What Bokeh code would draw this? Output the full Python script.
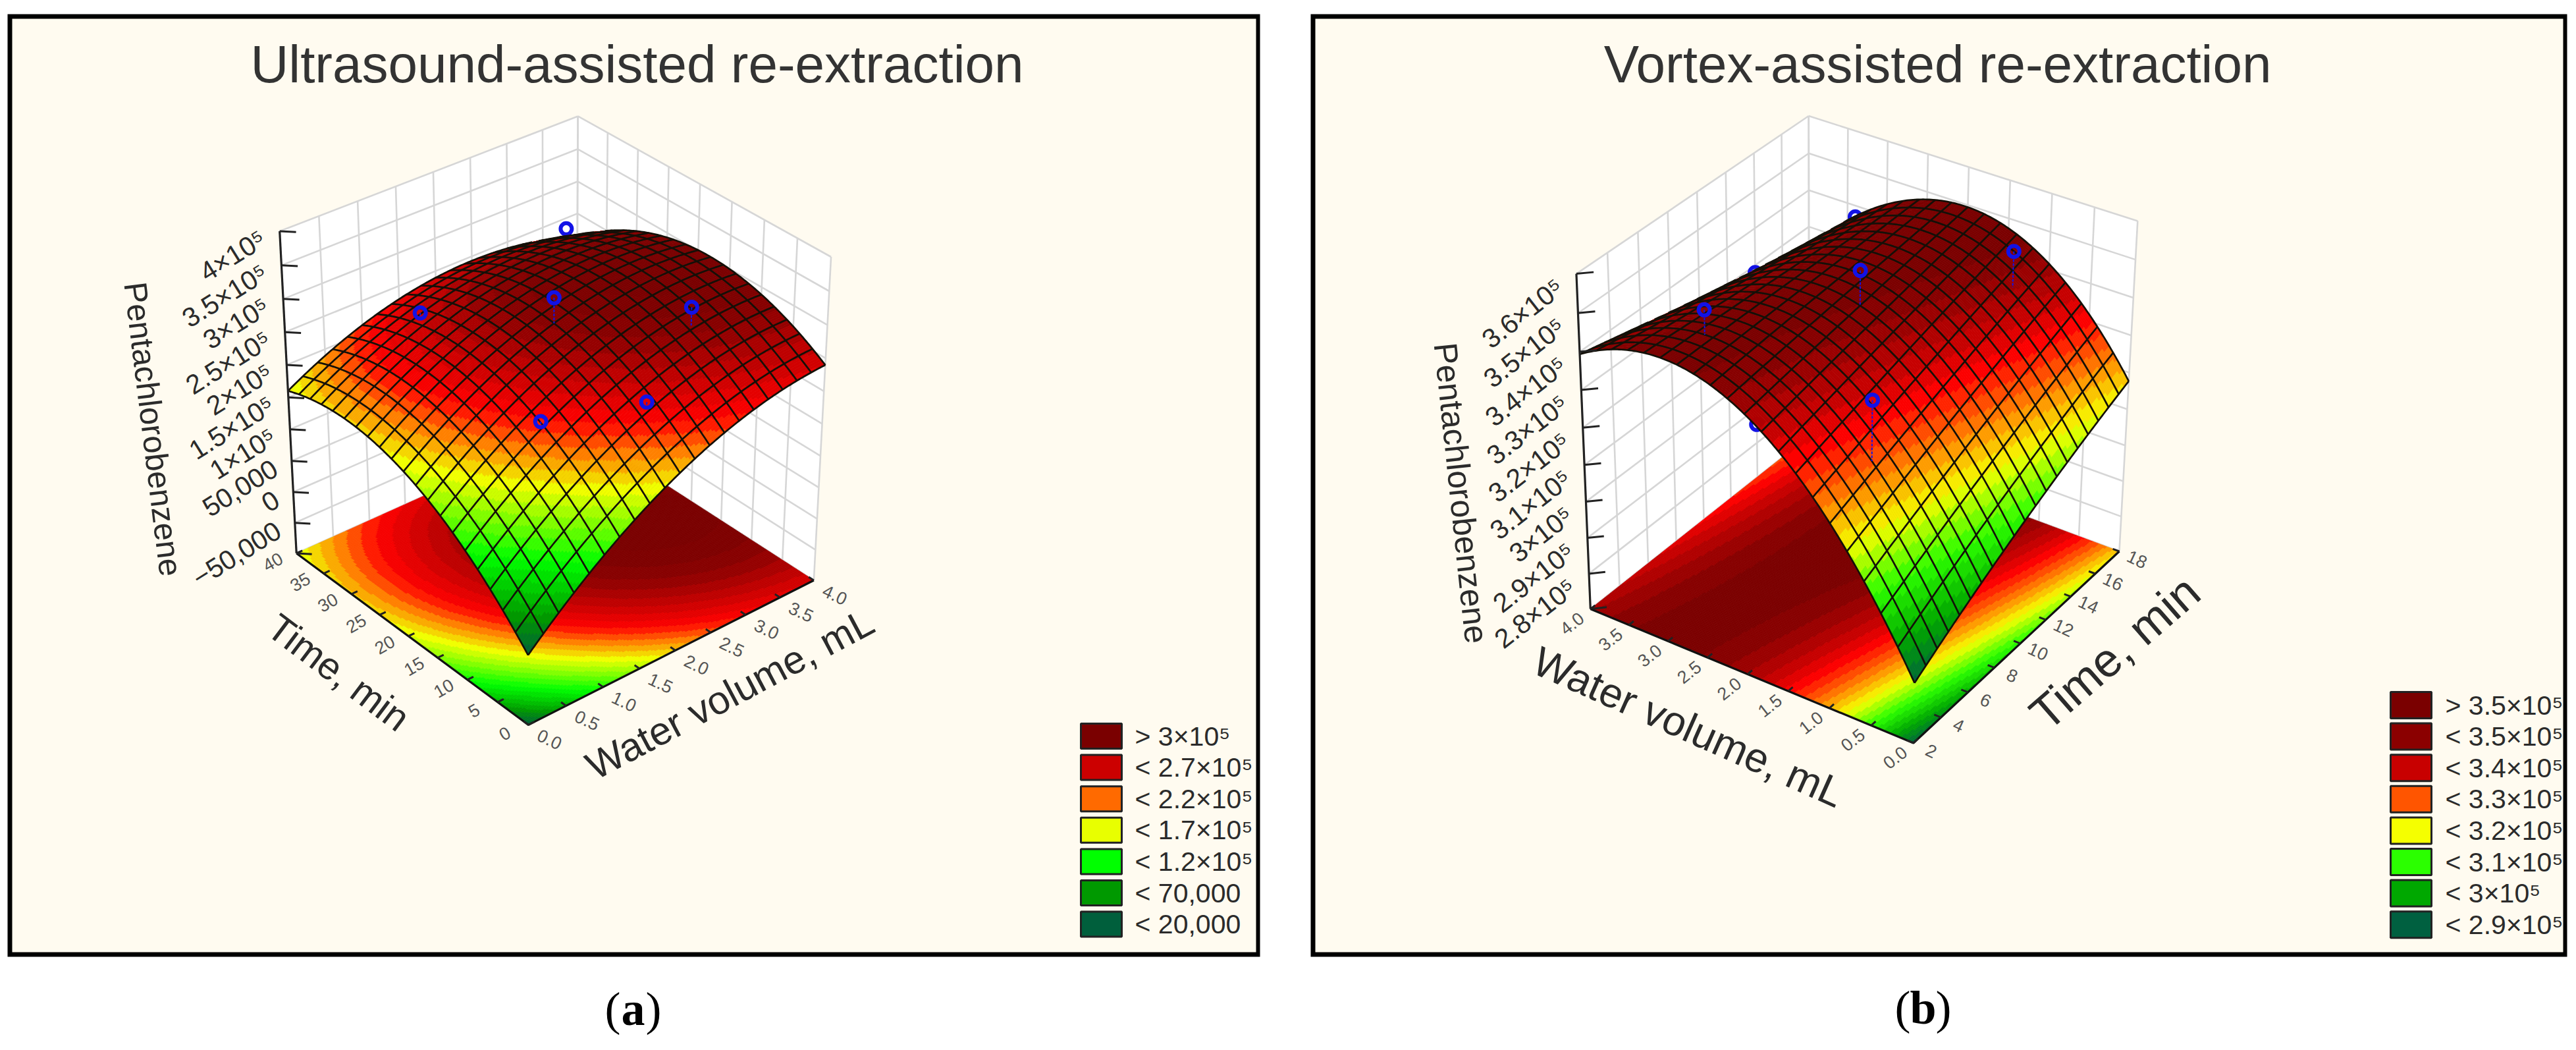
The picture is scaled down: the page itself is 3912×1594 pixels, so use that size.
import numpy as np
from bokeh.plotting import figure
from bokeh.embed import file_html
from bokeh.resources import INLINE
from bokeh.core.properties import value

# ---------- data (z in thousands) ----------
WATER_TICKS = [0.0, 0.5, 1.0, 1.5, 2.0, 2.5, 3.0, 3.5, 4.0]
TIME_A_TICKS = [0, 5, 10, 15, 20, 25, 30, 35, 40]
TIME_B_TICKS = [2, 4, 6, 8, 10, 12, 14, 16, 18]
Z_A_TICKS = [-100, -50, 0, 50, 100, 150, 200, 250, 300, 350, 400]
Z_B_TICKS = [270, 280, 290, 300, 310, 320, 330, 340, 350, 360]
Z_A_LABELS = ["\u221250,000", "0", "50,000", "1\u00d710\u2075", "1.5\u00d710\u2075", "2\u00d710\u2075",
              "2.5\u00d710\u2075", "3\u00d710\u2075", "3.5\u00d710\u2075", "4\u00d710\u2075"]
Z_B_LABELS = ["2.8\u00d710\u2075", "2.9\u00d710\u2075", "3\u00d710\u2075", "3.1\u00d710\u2075", "3.2\u00d710\u2075",
              "3.3\u00d710\u2075", "3.4\u00d710\u2075", "3.5\u00d710\u2075", "3.6\u00d710\u2075"]

# rows: time ticks, columns: water ticks
SURFACE_A = [
    [10, 62, 107, 146, 178, 203, 222, 234, 240],
    [61, 110, 153, 189, 218, 241, 257, 266, 269],
    [103, 149, 189, 223, 249, 269, 282, 289, 289],
    [136, 179, 216, 247, 271, 288, 298, 302, 300],
    [159, 200, 234, 262, 283, 297, 305, 306, 301],
    [173, 211, 243, 268, 286, 298, 303, 301, 293],
    [178, 213, 242, 265, 280, 289, 291, 287, 276],
    [174, 206, 232, 252, 265, 271, 270, 263, 250],
    [160, 190, 213, 230, 240, 243, 240, 230, 214],
]
SURFACE_B = [
    [286.5, 304.8, 319.8, 331.4, 339.7, 344.6, 346.2, 344.4, 339.3],
    [291.2, 308.7, 323.0, 333.7, 341.2, 345.3, 346.1, 343.5, 337.6],
    [295.7, 312.4, 325.8, 335.8, 342.5, 345.8, 345.8, 342.4, 335.7],
    [300.0, 316.0, 328.5, 337.7, 343.6, 346.1, 345.3, 341.1, 333.6],
    [304.0, 319.3, 331.3, 339.8, 344.9, 346.6, 345.0, 340.0, 331.8],
    [307.8, 322.6, 334.1, 341.7, 346.0, 346.9, 344.5, 338.7, 329.8],
    [311.3, 325.8, 337.0, 343.8, 347.3, 347.4, 344.2, 337.6, 328.2],
    [314.6, 328.8, 339.2, 345.7, 348.4, 347.7, 343.7, 336.3, 326.6],
    [317.7, 331.6, 341.7, 347.4, 349.3, 347.8, 343.0, 335.8, 324.3],
]
POINTS_A_WATER = [1.16, 2.1, 2.0, 3.05, 1.25, 3.0]
POINTS_A_TIME = [12, 6.4, 20, 10.4, 33, 30]
POINTS_A_Z = [224, 240, 321, 312, 260, 324]
POINTS_A_BEHIND = [False, False, False, False, False, True]
POINTS_B_WATER = [3.0, 4.0, 3.0, 2.9, 2.0, 1.1, 1.05]
POINTS_B_TIME = [15.6, 14, 8.4, 4.4, 10, 15.8, 5.2]
POINTS_B_Z = [346, 328, 310, 352.5, 354, 350, 341.5]
POINTS_B_BEHIND = [True, True, True, False, False, False, False]

LEGEND_A_LABELS = ["> 3\u00d710\u2075", "< 2.7\u00d710\u2075", "< 2.2\u00d710\u2075", "< 1.7\u00d710\u2075",
                   "< 1.2\u00d710\u2075", "< 70,000", "< 20,000"]
LEGEND_A_COLORS = ["#7a0000", "#cc0000", "#ff6a00", "#e8ff00", "#00ff00", "#009900", "#005f3c"]
RAMP_A_Z = [10, 45, 100, 165, 195, 220, 250, 280, 300]
RAMP_A_COLORS = ["#005f3c", "#009900", "#00ff00", "#f0ff00", "#ff8000", "#ff0000", "#c80000", "#8b0000", "#7a0000"]
LEGEND_B_LABELS = ["> 3.5\u00d710\u2075", "< 3.5\u00d710\u2075", "< 3.4\u00d710\u2075", "< 3.3\u00d710\u2075",
                   "< 3.2\u00d710\u2075", "< 3.1\u00d710\u2075", "< 3\u00d710\u2075", "< 2.9\u00d710\u2075"]
LEGEND_B_COLORS = ["#7a0000", "#8b0000", "#c80000", "#ff5500", "#f5ff00", "#2bff00", "#00a800", "#006040"]
RAMP_B_Z = [286, 295, 305, 315, 322, 331, 336, 343, 346.5]
RAMP_B_COLORS = ["#006040", "#00a800", "#2bff00", "#f5ff00", "#ff9000", "#ff0000", "#c80000", "#8b0000", "#7a0000"]

# ---------- page ----------
FONT = value("Liberation Sans")
INK = "#2b2b2b"
p = figure(width=3900, height=1580, x_range=(0, 3900), y_range=(1580, 0),
           output_backend="svg", toolbar_location=None, min_border=0)
p.axis.visible = False
p.grid.visible = False
p.outline_line_color = None
p.background_fill_color = "white"
p.border_fill_color = "white"


def label(x, y, text, size, angle=0, align="center", base="middle", color=INK, font=FONT, style="normal"):
    p.text([x], [y], text=[text], text_font=font, text_font_size=f"{size}px", angle=np.deg2rad(angle),
           text_align=align, text_baseline=base, text_color=color, text_font_style=style)


def camera(pairs):
    rows = []
    for (a, b, c), (x, y) in pairs:
        rows.append([a, b, c, 1, 0, 0, 0, 0, -x * a, -x * b, -x * c, -x])
        rows.append([0, 0, 0, 0, a, b, c, 1, -y * a, -y * b, -y * c, -y])
    A = np.array(rows, float)
    return np.linalg.svd(A)[2][-1].reshape(3, 4)


def project(P, a, b, c):
    a, b, c = np.asarray(a, float), np.asarray(b, float), np.asarray(c, float)
    d = P[2, 0] * a + P[2, 1] * b + P[2, 2] * c + P[2, 3]
    return ((P[0, 0] * a + P[0, 1] * b + P[0, 2] * c + P[0, 3]) / d,
            (P[1, 0] * a + P[1, 1] * b + P[1, 2] * c + P[1, 3]) / d)


def ramp(levels, colors, step):
    cols = np.array([[int(c[i:i + 2], 16) for i in (1, 3, 5)] for c in colors], float)
    lv = np.array(levels, float)

    def f(k):
        z = (k + 0.5) * step
        rgb = [np.interp(z, lv, cols[:, n]) for n in range(3)]
        return "#%02x%02x%02x" % tuple(int(round(v)) for v in rgb)
    return f


def band_polys(X, Y, K, color_of):
    """Merge runs of cells of equal colour in each row, far rows first."""
    xs, ys, cs = [], [], []
    rows, cols = K.shape
    for j in range(rows - 1, -1, -1):
        i1 = cols - 1
        while i1 >= 0:
            i0 = i1
            while i0 > 0 and K[j, i0 - 1] == K[j, i1]:
                i0 -= 1
            xs.append(np.r_[X[j, i0:i1 + 2], X[j + 1, i0:i1 + 2][::-1]].round(2).tolist())
            ys.append(np.r_[Y[j, i0:i1 + 2], Y[j + 1, i0:i1 + 2][::-1]].round(2).tolist())
            cs.append(color_of(int(K[j, i1])))
            i1 = i0 - 1
    return xs, ys, cs


def draw_panel(cfg):
    x0, y0, x1, y1 = cfg["frame"]
    p.quad(left=[x0], right=[x1], top=[y0], bottom=[y1], fill_color="black", line_color=None)
    p.quad(left=[x0 + 7], right=[x1 - 6], top=[y0 + 7], bottom=[y1 - 7], fill_color="#fffbf0", line_color=None)
    label(cfg["title_xy"][0], cfg["title_xy"][1], cfg["title"], 80, color="#333333")

    P = camera(cfg["corners"])
    w_t, t_t, z_t = np.array(WATER_TICKS), np.array(cfg["time_ticks"], float), np.array(cfg["z_ticks"], float)
    to_a = lambda w: np.asarray(w, float) / 4.0
    to_b = lambda t: (np.asarray(t, float) - t_t[0]) / (t_t[-1] - t_t[0])
    to_c = lambda z: (np.asarray(z, float) - z_t[0]) / (z_t[-1] - z_t[0])

    # walls
    for plane in ("a", "b"):
        s = np.array([0, 1, 1, 0.0]); c = np.array([0, 0, 1, 1.0])
        wx, wy = project(P, np.ones(4), s, c) if plane == "a" else project(P, s, np.ones(4), c)
        p.patch(wx.tolist(), wy.tolist(), fill_color="white", line_color=None)
    gx, gy = [], []
    for c in to_c(z_t):
        for plane in ("a", "b"):
            q = project(P, [1, 1], [0, 1], [c, c]) if plane == "a" else project(P, [0, 1], [1, 1], [c, c])
            gx.append(q[0].tolist()); gy.append(q[1].tolist())
    for b in to_b(t_t):
        q = project(P, [1, 1], [b, b], [0, 1]); gx.append(q[0].tolist()); gy.append(q[1].tolist())
    for a in to_a(w_t):
        q = project(P, [a, a], [1, 1], [0, 1]); gx.append(q[0].tolist()); gy.append(q[1].tolist())
    p.multi_line(gx, gy, line_color="#d6d6d6", line_width=2.6)

    # smooth resampling of the table for drawing the surface
    A, B = np.meshgrid(to_a(w_t), to_b(t_t))
    Z = np.array(cfg["surface"], float)
    deg = [3, 3]
    V = np.polynomial.polynomial.polyvander2d(A.ravel(), B.ravel(), deg)
    coef = np.linalg.lstsq(V, Z.ravel(), rcond=None)[0].reshape(4, 4)
    z_at = lambda a, b: np.polynomial.polynomial.polyval2d(a, b, coef)

    S = 160
    f = np.linspace(0, 1, S + 1)
    AF, BF = np.meshgrid(f, f)
    ZF = z_at(AF, BF)
    centers = (f[:-1] + f[1:]) / 2
    AC, BC = np.meshgrid(centers, centers)
    step = cfg["step"]
    K = np.floor(z_at(AC, BC) / step).astype(int)
    color_of = ramp(cfg["ramp_z"], cfg["ramp_colors"], step)

    # floor contours
    fx, fy = project(P, AF, BF, np.zeros_like(AF))
    xs, ys, cs = band_polys(fx, fy, K, color_of)
    p.patches(xs, ys, fill_color=cs, line_color=cs, line_width=0.8)

    # points behind the surface
    pa, pb, pc = to_a(cfg["pw"]), to_b(cfg["pt"]), to_c(cfg["pz"])
    px, py = project(P, pa, pb, pc)
    behind = np.array(cfg["pbehind"])
    if behind.any():
        p.scatter(px[behind].tolist(), py[behind].tolist(), marker="circle", size=17, fill_color=None,
                  line_color="#1212e6", line_width=6)

    # surface
    sx, sy = project(P, AF, BF, to_c(ZF))
    xs, ys, cs = band_polys(sx, sy, K, color_of)
    p.patches(xs, ys, fill_color=cs, line_color=cs, line_width=0.8)

    # mesh, only where the surface faces the viewer
    area = ((sx[:-1, :-1] * sy[:-1, 1:] - sx[:-1, 1:] * sy[:-1, :-1]) + (sx[:-1, 1:] * sy[1:, 1:] - sx[1:, 1:] * sy[:-1, 1:])
            + (sx[1:, 1:] * sy[1:, :-1] - sx[1:, :-1] * sy[1:, 1:]) + (sx[1:, :-1] * sy[:-1, :-1] - sx[:-1, :-1] * sy[1:, :-1]))
    front = np.sign(area) == np.sign(area[0, 0])
    mx, my = [], []
    every = S // 20

    def add_runs(line_x, line_y, vis):
        n = 0
        while n < len(vis):
            if vis[n]:
                m = n
                while m + 1 < len(vis) and vis[m + 1]:
                    m += 1
                mx.append(line_x[n:m + 2].tolist()); my.append(line_y[n:m + 2].tolist())
                n = m + 1
            else:
                n += 1
    for i in range(0, S + 1, every):
        add_runs(sx[:, i], sy[:, i], front[:, min(i, S - 1)] | front[:, max(i - 1, 0)])
        add_runs(sx[i, :], sy[i, :], front[min(i, S - 1), :] | front[max(i - 1, 0), :])
    p.multi_line(mx, my, line_color="#141008", line_width=2.7)

    # points in front and their drop lines
    show = ~behind
    if show.any():
        bx, by = project(P, pa[show], pb[show], to_c([z_at(a, b) for a, b in zip(pa[show], pb[show])]))
        p.multi_line([[a, c] for a, c in zip(px[show].tolist(), bx.tolist())],
                     [[a, c] for a, c in zip(py[show].tolist(), by.tolist())],
                     line_color="#1212e6", line_width=2, line_dash="4 2")
        p.scatter(px[show].tolist(), py[show].tolist(), marker="circle", size=17, fill_color=None,
                  line_color="#1212e6", line_width=6)

    # box edges and ticks
    ax_a, ax_b = cfg["axis_corner"]
    q = project(P, [ax_a, ax_a], [ax_b, ax_b], [0, 1])
    p.line(q[0].tolist(), q[1].tolist(), line_color="#222222", line_width=3.2)
    q = project(P, [1, 0, 0], [0, 0, 1], [0, 0, 0])
    p.line(q[0].tolist(), q[1].tolist(), line_color="#111111", line_width=3.2)
    tx, ty = [], []
    da, db = (1 - 2 * ax_a) * 0.03, (1 - 2 * ax_b) * 0.03
    for c in to_c(z_t):
        q = project(P, [ax_a, ax_a + da], [ax_b, ax_b + db], [c, c])
        tx.append(q[0].tolist()); ty.append(q[1].tolist())
    for a in to_a(w_t):
        q = project(P, [a, a], [0, 0.02], [0, 0]); tx.append(q[0].tolist()); ty.append(q[1].tolist())
    for b in to_b(t_t):
        q = project(P, [0, 0.02], [b, b], [0, 0]); tx.append(q[0].tolist()); ty.append(q[1].tolist())
    p.multi_line(tx, ty, line_color="#222222", line_width=3)

    # tick labels
    off = cfg["z_label_offset"]
    for z, text in zip(z_t[1:], cfg["z_labels"]):
        qx, qy = project(P, ax_a, ax_b, to_c(z))
        label(float(qx) + off[0], float(qy) + off[1], text, 41, cfg["z_angle"], align="right")
    ox, oy, ang = cfg["water_lab"]
    for w in w_t:
        qx, qy = project(P, to_a(w), 0, 0)
        label(float(qx) + ox, float(qy) + oy, f"{w:.1f}", 27, ang, color="#555555")
    ox, oy, ang = cfg["time_lab"]
    for t in t_t:
        qx, qy = project(P, 0, to_b(t), 0)
        label(float(qx) + ox, float(qy) + oy, f"{int(t)}", 27, ang, color="#555555")

    # axis titles
    for text, x, y, size, ang in cfg["titles"]:
        label(x, y, text, size, ang)

    # legend
    lx0, lx1, ly, dy, h, tx0 = cfg["legend"]
    for n, (text, col) in enumerate(zip(cfg["legend_labels"], cfg["legend_colors"])):
        top = ly + n * dy
        p.quad(left=[lx0], right=[lx1], top=[top], bottom=[top + h], fill_color=col, line_color="#222222", line_width=3)
        label(tx0, top + h / 2, text, 41, align="left")

    # panel letter
    cx, cy = cfg["letter_xy"]
    serif = value("Liberation Serif")
    label(cx - 19, cy, "(", 72, align="right", color="black", font=serif)
    label(cx, cy, cfg["letter"], 72, color="black", font=serif, style="bold")
    label(cx + 19, cy, ")", 72, align="left", color="black", font=serif)


draw_panel(dict(
    frame=(11, 21, 1913, 1452), title="Ultrasound-assisted re-extraction", title_xy=(967, 97),
    corners=[((0, 0, 0), (802, 1101)), ((1, 0, 0), (1235, 879)), ((0, 1, 0), (449, 838)), ((1, 1, 0), (876, 650)),
             ((0, 1, 1), (425, 351)), ((1, 0, 1), (1262, 390)), ((1, 1, 1), (876, 175))],
    time_ticks=TIME_A_TICKS, z_ticks=Z_A_TICKS, z_labels=Z_A_LABELS, surface=SURFACE_A,
    step=10, ramp_z=RAMP_A_Z, ramp_colors=RAMP_A_COLORS, legend_colors=LEGEND_A_COLORS, legend_labels=LEGEND_A_LABELS,
    pw=POINTS_A_WATER, pt=POINTS_A_TIME, pz=POINTS_A_Z, pbehind=POINTS_A_BEHIND,
    axis_corner=(0, 1), z_label_offset=(-25, 8), z_angle=32,
    water_lab=(32, 22, -25), time_lab=(-36, 13, 30),
    titles=[("Pentachlorobenzene", 232, 651, 49, -83), ("Water volume, mL", 1108, 1053, 60, 28),
            ("Time, min", 514, 1020, 58, -37)],
    legend=(1641, 1703, 1098, 47.6, 38, 1723), letter="a", letter_xy=(961, 1531),
))
draw_panel(dict(
    frame=(1990, 21, 3898, 1452), title="Vortex-assisted re-extraction", title_xy=(2942, 97),
    corners=[((0, 0, 0), (2904, 1128)), ((1, 0, 0), (2416, 924.5)), ((0, 1, 0), (3219, 835)), ((1, 1, 0), (2746, 662)),
             ((1, 0, 1), (2393.5, 414)), ((0, 1, 1), (3246, 336)), ((1, 1, 1), (2746, 175.5))],
    time_ticks=TIME_B_TICKS, z_ticks=Z_B_TICKS, z_labels=Z_B_LABELS, surface=SURFACE_B,
    step=2.5, ramp_z=RAMP_B_Z, ramp_colors=RAMP_B_COLORS, legend_colors=LEGEND_B_COLORS, legend_labels=LEGEND_B_LABELS,
    pw=POINTS_B_WATER, pt=POINTS_B_TIME, pz=POINTS_B_Z, pbehind=POINTS_B_BEHIND,
    axis_corner=(1, 0), z_label_offset=(-25, 16), z_angle=38,
    water_lab=(-28, 22, 38), time_lab=(27, 12, -25),
    titles=[("Pentachlorobenzene", 2218, 748, 50, -84), ("Water volume, mL", 2564, 1103, 63, -24),
            ("Time, min", 3211, 990, 72, 41)],
    legend=(3630, 3692, 1050, 47.6, 40, 3713), letter="b", letter_xy=(2920, 1529),
))

open("out.html", "w").write(file_html(p, INLINE))
